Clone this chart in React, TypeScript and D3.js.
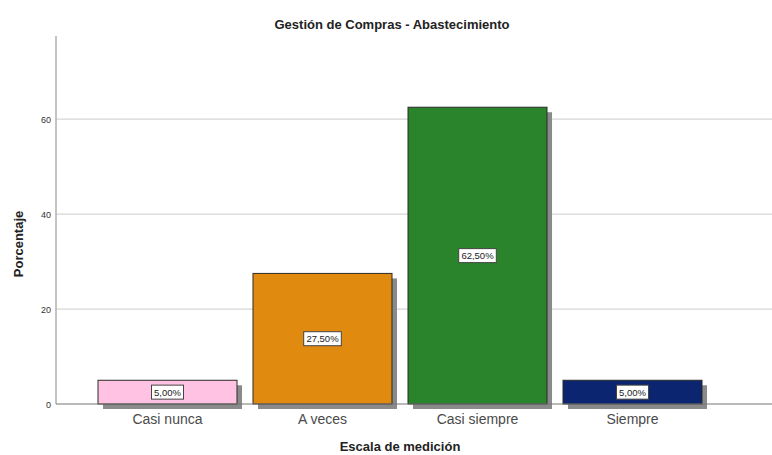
import React from "react";
import * as d3 from "d3";

const categories = ["Casi nunca", "A veces", "Casi siempre", "Siempre"];
const values = [5.0, 27.5, 62.5, 5.0];
const valueLabels = ["5,00%", "27,50%", "62,50%", "5,00%"];
const colors = ["#ffc2e2", "#e08a10", "#29842c", "#0b2570"];
const yTicks = [0, 20, 40, 60];

const W = 772;
const H = 455;

export default function App() {
  const x = d3
    .scaleBand<string>()
    .domain(categories)
    .range([90, 710])
    .paddingInner(16 / 155)
    .paddingOuter(8 / 155);
  const y = d3.scaleLinear().domain([0, 77.5]).range([404, 36]);
  const font = "Liberation Sans, Arial, sans-serif";
  return (
    <svg
      width={W}
      height={H}
      style={{ position: "absolute", left: 0, top: 0, background: "#fff" }}
      fontFamily={font}
    >
      <text x={392} y={29} textAnchor="middle" fontSize={13} fontWeight="bold" fill="#222">
        Gestión de Compras - Abastecimiento
      </text>
      {yTicks.map((t) => (
        <g key={t}>
          {t > 0 && (
            <line x1={56} x2={772} y1={y(t)} y2={y(t)} stroke="#d6d6d6" strokeWidth={1.2} />
          )}
          <text x={51} y={y(t) + 3.5} textAnchor="end" fontSize={9} fill="#333">
            {t}
          </text>
        </g>
      ))}
      <line x1={56} x2={56} y1={36} y2={404} stroke="#b0b0b0" strokeWidth={1.5} />
      {categories.map((c, i) => {
        const bx = x(c)!;
        const bw = x.bandwidth();
        const top = y(values[i]);
        const h = y(0) - top;
        const lbl = valueLabels[i];
        const lw = lbl.length * 5.6 + 4;
        const cy = top + h / 2;
        return (
          <g key={c}>
            <rect x={bx + 5} y={top + 5} width={bw} height={h} fill="#8a8a8a" />
            <rect x={bx} y={top} width={bw} height={h} fill={colors[i]} stroke="#2a2a2a" strokeWidth={1} />
            <rect x={bx + bw / 2 - lw / 2} y={cy - 7} width={lw} height={14} fill="#fff" stroke="#444" strokeWidth={1} />
            <text x={bx + bw / 2} y={cy + 3.5} textAnchor="middle" fontSize={9.5} fill="#222">
              {lbl}
            </text>
            <text x={bx + bw / 2} y={424} textAnchor="middle" fontSize={14} fill="#4a4a4a">
              {c}
            </text>
          </g>
        );
      })}
      <line x1={56} x2={772} y1={404} y2={404} stroke="#777" strokeWidth={1.2} />
      <text
        transform="translate(23,244) rotate(-90)"
        textAnchor="middle"
        fontSize={13}
        fontWeight="bold"
        fill="#222"
      >
        Porcentaje
      </text>
      <text x={400} y={451} textAnchor="middle" fontSize={13} fontWeight="bold" fill="#222">
        Escala de medición
      </text>
    </svg>
  );
}
